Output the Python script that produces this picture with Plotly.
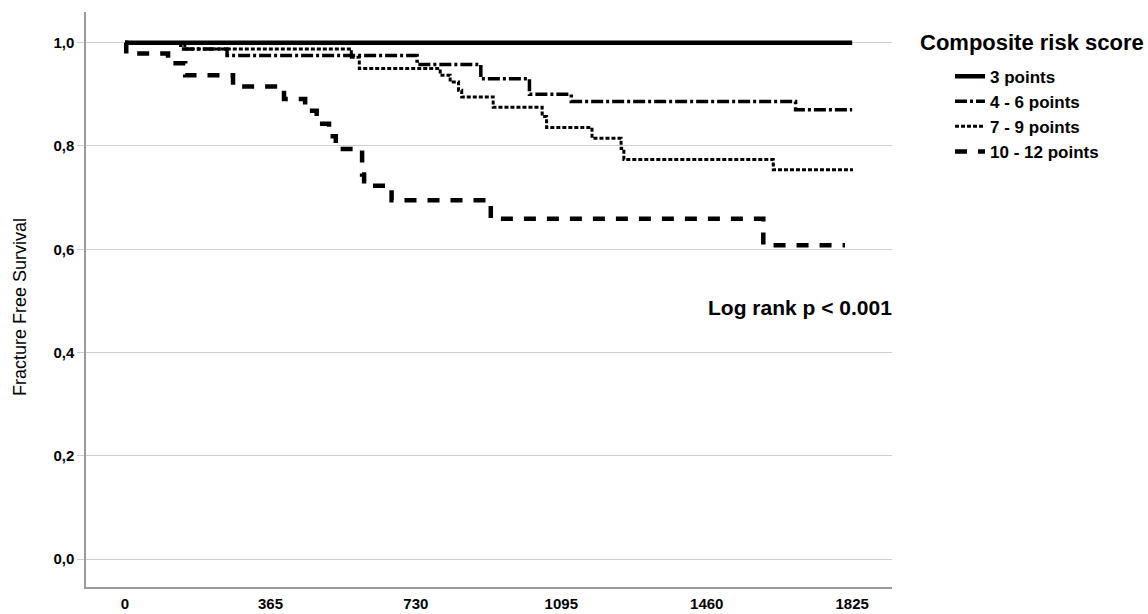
import plotly.graph_objects as go

# ---- data ----
series_names = ["3 points", "4 - 6 points", "7 - 9 points", "10 - 12 points"]

t_3 = [0, 1825]
s_3 = [1.0, 1.0]

t_46 = [0, 140, 256, 733, 893, 1015, 1120, 1683, 1825]
s_46 = [1.0, 0.988, 0.975, 0.958, 0.930, 0.900, 0.886, 0.870, 0.870]

t_79 = [0, 150, 568, 588, 791, 816, 837, 845, 924, 1047, 1058, 1172, 1245, 1252, 1627, 1827]
s_79 = [1.0, 0.988, 0.972, 0.950, 0.937, 0.924, 0.908, 0.895, 0.875, 0.857, 0.836, 0.815, 0.795, 0.774, 0.754, 0.754]

t_1012 = [0, 3, 108, 151, 271, 399, 452, 481, 512, 529, 595, 600, 669, 918, 1602, 1807]
s_1012 = [1.0, 0.979, 0.960, 0.937, 0.915, 0.891, 0.868, 0.843, 0.819, 0.794, 0.745, 0.723, 0.695, 0.659, 0.608, 0.608]

x_ticks = [0, 365, 730, 1095, 1460, 1825]
y_ticks = [0.0, 0.2, 0.4, 0.6, 0.8, 1.0]
y_tick_labels = ["0,0", "0,2", "0,4", "0,6", "0,8", "1,0"]

legend_title = "Composite risk score"
y_title = "Fracture Free Survival"
note = "Log rank p < 0.001"

FONT = "Arial, Liberation Sans, sans-serif"

styles = [
    dict(width=4.5, dash="solid"),
    dict(width=3.5, dash="12px,3px,3px,3px"),
    dict(width=3, dash="4px,2px"),
    dict(width=4.5, dash="12px,11px"),
]

fig = go.Figure()
for name, t, s, st in zip(series_names, [t_3, t_46, t_79, t_1012],
                          [s_3, s_46, s_79, s_1012], styles):
    fig.add_trace(go.Scatter(
        x=t, y=s, mode="lines", name=name,
        line=dict(color="black", shape="hv", width=st["width"], dash=st["dash"]),
    ))

fig.update_layout(
    width=1148, height=614, autosize=False,
    margin=dict(l=86, r=256, t=12, b=27, autoexpand=False),
    paper_bgcolor="white", plot_bgcolor="white",
    font=dict(family=FONT, color="black"),
    legend=dict(
        font=dict(size=17, family=FONT, weight="bold", color="black"),
        x=1.072, xanchor="left", y=0.919, yanchor="top",
        bgcolor="rgba(0,0,0,0)", tracegroupgap=0, itemwidth=30,
    ),
    annotations=[
        dict(text=f"<b>{note}</b>", xref="paper", yref="y",
             x=1.0025, y=0.488, xanchor="right", yanchor="middle",
             showarrow=False, font=dict(size=21, family=FONT, color="black")),
        dict(text=f"<b>{legend_title}</b>", xref="paper", yref="paper",
             x=1.032, y=0.9478, xanchor="left", yanchor="middle",
             showarrow=False, font=dict(size=22, family=FONT, color="black")),
        dict(text=y_title, xref="paper", yref="paper", textangle=-90,
             x=-0.0819, y=0.487, xanchor="center", yanchor="middle",
             showarrow=False, font=dict(size=18, family=FONT, color="black")),
    ],
)

fig.update_xaxes(
    range=[-98, 1925], tickvals=x_ticks, ticktext=[f"<b>{v}</b>" for v in x_ticks],
    showgrid=False, zeroline=False, showline=True, linecolor="#9a9a9a", linewidth=1.5,
    ticks="", tickfont=dict(size=15, family=FONT, color="black"), ticklabelstandoff=2,
    automargin=False,
)
fig.update_yaxes(
    range=[-0.0538, 1.0594], tickvals=y_ticks, ticktext=[f"<b>{v}</b>" for v in y_tick_labels],
    showgrid=True, gridcolor="#cfcfcf", gridwidth=1, zeroline=False,
    showline=True, linecolor="#9a9a9a", linewidth=1.5,
    ticks="outside", ticklen=7, tickcolor="#cfcfcf",
    tickfont=dict(size=15, family=FONT, color="black"), ticklabelstandoff=0,
    automargin=False,
)

fig.write_html("out.html", config={"displayModeBar": False},
               post_script="document.body.style.margin='0';document.body.style.overflow='hidden';")
